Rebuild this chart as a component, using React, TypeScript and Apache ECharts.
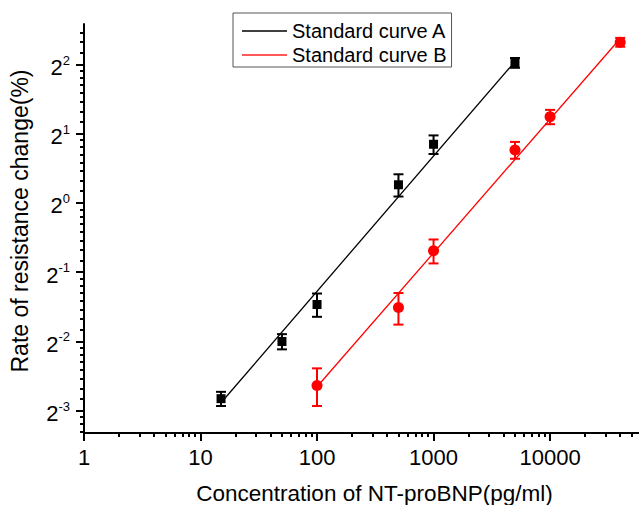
import React, { useEffect, useRef } from 'react';
import * as echarts from 'echarts';

// Standard curve A (black squares)
const concA = [15, 50, 100, 500, 1000, 5000];
const rateA = [0.141, 0.25, 0.362, 1.2, 1.8, 4.07];
const errA = [0.01, 0.019, 0.042, 0.133, 0.167, 0.2];
// Standard curve B (red circles)
const concB = [100, 500, 1000, 5000, 10000, 40000];
const rateB = [0.161, 0.351, 0.62, 1.7, 2.37, 5.0];
const errB = [0.03, 0.055, 0.074, 0.143, 0.17, 0.22];
// fitted lines (end points)
const fitA = [[15, 0.1354], [5000, 4.12]];
const fitB = [[100, 0.1588], [40000, 5.19]];

const seriesNames = ['Standard curve A', 'Standard curve B'];
const xMajorTicks = [1, 10, 100, 1000, 10000];
const xMinorTicks = [
  2, 3, 4, 5, 6, 7, 8, 9,
  20, 30, 40, 50, 60, 70, 80, 90,
  200, 300, 400, 500, 600, 700, 800, 900,
  2000, 3000, 4000, 5000, 6000, 7000, 8000, 9000,
  20000, 30000, 40000, 50000,
];
const yMajorExponents = [-3, -2, -1, 0, 1, 2];
const yMinorTicks = [
  0.1016, 0.1094, 0.1172,
  0.1406, 0.1563, 0.1719, 0.1875, 0.2031, 0.2188, 0.2344,
  0.2813, 0.3125, 0.3438, 0.375, 0.4063, 0.4375, 0.4688,
  0.5625, 0.625, 0.6875, 0.75, 0.8125, 0.875, 0.9375,
  1.125, 1.25, 1.375, 1.5, 1.625, 1.75, 1.875,
  2.25, 2.5, 2.75, 3, 3.25, 3.5, 3.75,
  4.5, 5, 5.5,
];

const X_MIN = 1;
const X_MAX = 58000;
const Y_MIN = 0.1;
const Y_MAX = 6;
const FONT = 'Liberation Sans, Arial, sans-serif';

function errData(xs: number[], ys: number[], es: number[]) {
  return xs.map((x, i) => [x, ys[i] - es[i], ys[i] + es[i]]);
}

function errorBarSeries(name: string, color: string, data: number[][]) {
  return {
    type: 'custom',
    name,
    xAxisIndex: 0,
    yAxisIndex: 0,
    z: 3,
    encode: { x: 0, y: [1, 2] },
    data,
    renderItem: (_params: any, api: any) => {
      const x = api.value(0);
      const lo = api.coord([x, api.value(1)]);
      const hi = api.coord([x, api.value(2)]);
      const half = 5;
      const style = { stroke: color, lineWidth: 2 };
      return {
        type: 'group',
        children: [
          { type: 'line', shape: { x1: lo[0], y1: lo[1], x2: hi[0], y2: hi[1] }, style },
          { type: 'line', shape: { x1: lo[0] - half, y1: lo[1], x2: lo[0] + half, y2: lo[1] }, style },
          { type: 'line', shape: { x1: hi[0] - half, y1: hi[1], x2: hi[0] + half, y2: hi[1] }, style },
        ],
      };
    },
  };
}

export default function App() {
  const ref = useRef<HTMLDivElement>(null);
  useEffect(() => {
    if (!ref.current) return;
    const chart = echarts.init(ref.current, undefined, { renderer: 'svg' });
    const xl = (v: number) => Math.log10(v);
    const yl = (v: number) => Math.log2(v);
    const option: any = {
      animation: false,
      backgroundColor: '#ffffff',
      textStyle: { fontFamily: FONT },
      grid: { left: 84, right: 0, top: 24, bottom: 72, containLabel: false },
      legend: {
        orient: 'vertical',
        left: 233,
        top: 13,
        data: seriesNames,
        icon: 'rect',
        itemWidth: 45,
        itemHeight: 1.5,
        itemGap: 4,
        padding: [8, 5, 2, 9],
        borderColor: '#555',
        borderWidth: 1,
        backgroundColor: '#ffffff',
        textStyle: { fontSize: 20, fontFamily: FONT, color: '#000' },
      },
      xAxis: [
        {
          type: 'log',
          logBase: 10,
          min: X_MIN,
          max: X_MAX,
          position: 'bottom',
          axisLine: { show: true, onZero: false, lineStyle: { color: '#000', width: 2 } },
          axisTick: { show: false },
          axisLabel: { show: false },
          splitLine: { show: false },
          minorTick: { show: false },
        },
        {
          type: 'value',
          min: xl(X_MIN),
          max: xl(X_MAX),
          position: 'bottom',
          axisLine: { show: false, onZero: false },
          axisTick: {
            show: true,
            inside: false,
            length: 8,
            customValues: xMajorTicks.map(xl),
            lineStyle: { color: '#000', width: 2 },
          },
          axisLabel: {
            show: true,
            margin: 13,
            customValues: xMajorTicks.map(xl),
            fontSize: 22,
            fontFamily: FONT,
            color: '#000',
            formatter: (v: number) => String(Math.round(Math.pow(10, v))),
          },
          splitLine: { show: false },
        },
        {
          type: 'value',
          min: xl(X_MIN),
          max: xl(X_MAX),
          position: 'bottom',
          axisLine: { show: false, onZero: false },
          axisTick: {
            show: true,
            inside: false,
            length: 4,
            customValues: xMinorTicks.map(xl),
            lineStyle: { color: '#000', width: 2 },
          },
          axisLabel: { show: false },
          splitLine: { show: false },
        },
      ],
      yAxis: [
        {
          type: 'log',
          logBase: 2,
          min: Y_MIN,
          max: Y_MAX,
          position: 'left',
          axisLine: { show: true, onZero: false, lineStyle: { color: '#000', width: 2 } },
          axisTick: { show: false },
          axisLabel: { show: false },
          splitLine: { show: false },
          minorTick: { show: false },
        },
        {
          type: 'value',
          min: yl(Y_MIN),
          max: yl(Y_MAX),
          position: 'left',
          axisLine: { show: false, onZero: false },
          axisTick: {
            show: true,
            inside: false,
            length: 8,
            customValues: yMajorExponents,
            lineStyle: { color: '#000', width: 2 },
          },
          axisLabel: {
            show: true,
            margin: 14,
            customValues: yMajorExponents,
            color: '#000',
            formatter: (v: number) => `{b|2}{s|${Math.round(v)}}`,
            rich: {
              b: { fontSize: 22, lineHeight: 22, fontFamily: FONT, color: '#000', padding: [6, 0, 0, 0] },
              s: { fontSize: 13, lineHeight: 13, fontFamily: FONT, color: '#000', verticalAlign: 'top' },
            },
          },
          splitLine: { show: false },
        },
        {
          type: 'value',
          min: yl(Y_MIN),
          max: yl(Y_MAX),
          position: 'left',
          axisLine: { show: false, onZero: false },
          axisTick: {
            show: true,
            inside: false,
            length: 4,
            customValues: yMinorTicks.map(yl),
            lineStyle: { color: '#000', width: 2 },
          },
          axisLabel: { show: false },
          splitLine: { show: false },
        },
      ],
      graphic: [
        {
          type: 'text',
          x: 374.5,
          y: 493,
          style: {
            text: 'Concentration of NT-proBNP(pg/ml)',
            fontSize: 22.5,
            fontFamily: FONT,
            fill: '#000',
            textAlign: 'center',
            textVerticalAlign: 'middle',
          },
        },
        {
          type: 'text',
          x: 20,
          y: 221,
          rotation: Math.PI / 2,
          style: {
            text: 'Rate of resistance change(%)',
            fontSize: 23,
            fontFamily: FONT,
            fill: '#000',
            textAlign: 'center',
            textVerticalAlign: 'middle',
          },
        },
      ],
      series: [
        {
          name: seriesNames[0],
          type: 'line',
          xAxisIndex: 0,
          yAxisIndex: 0,
          data: fitA,
          showSymbol: false,
          symbol: 'none',
          lineStyle: { color: '#000', width: 1.3 },
          itemStyle: { color: '#000' },
          z: 2,
        },
        {
          name: seriesNames[1],
          type: 'line',
          xAxisIndex: 0,
          yAxisIndex: 0,
          data: fitB,
          showSymbol: false,
          symbol: 'none',
          lineStyle: { color: '#ff0000', width: 1.3 },
          itemStyle: { color: '#ff2020' },
          z: 2,
        },
        errorBarSeries('errA', '#000', errData(concA, rateA, errA)),
        errorBarSeries('errB', '#ff0000', errData(concB, rateB, errB)),
        {
          name: 'pointsA',
          type: 'scatter',
          xAxisIndex: 0,
          yAxisIndex: 0,
          symbol: 'rect',
          symbolSize: 9,
          itemStyle: { color: '#000', opacity: 1 },
          data: concA.map((x, i) => [x, rateA[i]]),
          z: 4,
        },
        {
          name: 'pointsB',
          type: 'scatter',
          xAxisIndex: 0,
          yAxisIndex: 0,
          symbol: 'circle',
          symbolSize: 11,
          itemStyle: { color: '#ff0000', opacity: 1 },
          data: concB.map((x, i) => [x, rateB[i]]),
          z: 4,
        },
      ],
    };
    chart.setOption(option);
    return () => chart.dispose();
  }, []);
  return (
    <div
      ref={ref}
      style={{ position: 'fixed', left: 0, top: 0, width: 639, height: 505, background: '#fff' }}
    />
  );
}
